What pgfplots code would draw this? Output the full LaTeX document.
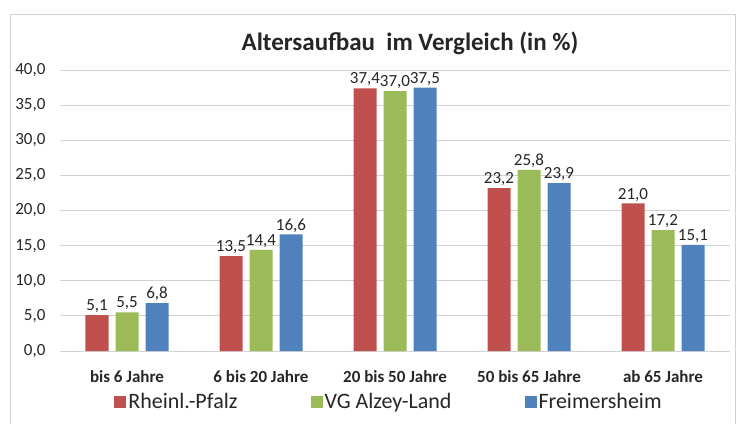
\documentclass[border=0pt]{standalone}
\usepackage{pgfplots}
\pgfplotsset{compat=1.18}
\usepackage{fontspec}
\setmainfont{Carlito}
\definecolor{cred}{RGB}{192,80,77}
\definecolor{cgreen}{RGB}{155,187,89}
\definecolor{cblue}{RGB}{79,129,189}
\definecolor{gridc}{RGB}{210,210,210}
\definecolor{txt}{RGB}{38,38,38}
\begin{document}
\begin{tikzpicture}
\useasboundingbox (0pt,0pt) rectangle (737pt,424pt);
\draw[gridc, line width=0.8pt] (10pt,0pt) -- (10pt,410pt) -- (735pt,410pt) -- (735pt,0pt);
\node[font=\fontsize{25}{28}\selectfont\bfseries, text=txt] at (410pt,381pt) {Altersaufbau\ \ im Vergleich (in \%)};
\begin{axis}[
  at={(60pt,73pt)}, anchor=south west,
  scale only axis, width=670pt, height=281pt,
  ybar=7pt, bar width=23pt,
  xmin=-0.5, xmax=4.5, ymin=0, ymax=40,
  xtick={0,1,2,3,4},
  xticklabels={bis 6 Jahre, 6 bis 20 Jahre, 20 bis 50 Jahre, 50 bis 65 Jahre, ab 65 Jahre},
  xticklabel style={font=\fontsize{17}{19}\selectfont\bfseries, text=txt, yshift=-16pt},
  ytick={0,5,...,40},
  yticklabel style={font=\fontsize{17}{19}\selectfont, text=txt, xshift=-11pt},
  /pgf/number format/.cd, use comma, fixed, fixed zerofill, precision=1, assume math mode=true,
  /pgfplots/.cd,
  ymajorgrids, grid style={gridc, line width=0.8pt},
  major tick length=0pt,
  axis x line*=bottom, axis y line*=left,
  y axis line style={draw=none},
  x axis line style={gridc, line width=1pt, -},
  nodes near coords,
  nodes near coords style={font=\fontsize{17}{19}\selectfont, text=txt, inner sep=2pt},
  legend columns=3,
  legend style={at={(0.491,0)}, anchor=center, yshift=-51pt, draw=none, fill=none,
    font=\fontsize{22}{24}\selectfont, text=txt,
    /tikz/every even column/.append style={column sep=71pt}},
  legend image code/.code={\draw[#1, draw=none] (0pt,-6pt) rectangle (12pt,6pt);},
]
\addplot[fill=cred, draw=none] coordinates {(0,5.1) (1,13.5) (2,37.4) (3,23.2) (4,21.0)};
\addplot[fill=cgreen, draw=none] coordinates {(0,5.5) (1,14.4) (2,37.0) (3,25.8) (4,17.2)};
\addplot[fill=cblue, draw=none] coordinates {(0,6.8) (1,16.6) (2,37.5) (3,23.9) (4,15.1)};
\legend{Rheinl.-Pfalz, VG Alzey-Land, Freimersheim}
\end{axis}
\end{tikzpicture}
\end{document}
